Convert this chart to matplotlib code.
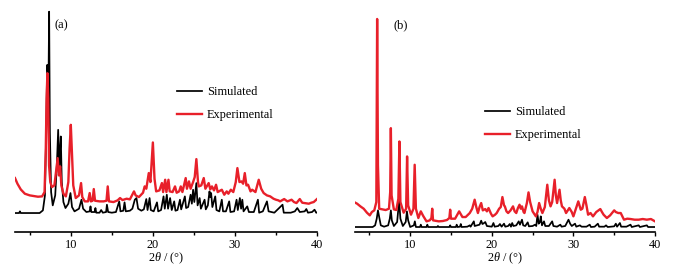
import matplotlib
matplotlib.use("Agg")
import matplotlib.pyplot as plt
from matplotlib.ticker import MultipleLocator

plt.rcParams['font.family'] = ['Liberation Serif', 'DejaVu Serif']
plt.rcParams['mathtext.fontset'] = 'custom'
plt.rcParams['mathtext.it'] = 'Liberation Serif:italic'
plt.rcParams['mathtext.rm'] = 'Liberation Serif'

# ---------------- Panel (a) ----------------
a_sim_x = [3.2, 3.7, 3.8, 3.9, 6.2, 6.6, 6.85, 7.0, 7.12, 7.2, 7.3, 7.36, 7.45, 7.6, 7.8, 8.1, 8.3, 8.46, 8.6, 8.7,
           8.78, 8.9, 9.1, 9.35, 9.7, 9.96, 10.15, 10.45, 11.0, 11.3, 11.5, 11.9, 12.3, 12.4, 12.5, 12.9, 13.0, 13.1,
           13.5, 13.7, 13.9, 14.3, 14.4, 14.55, 15.0, 15.5, 15.9, 16.05, 16.4, 16.55, 16.7, 17.2, 17.5, 17.8, 18.0,
           18.2, 18.6, 18.9, 19.2, 19.35, 19.6, 19.75, 20.1, 20.5, 20.65, 21.0, 21.3, 21.45, 21.7, 21.85, 22.1, 22.3,
           22.6, 22.75, 23.0, 23.3, 23.45, 23.9, 24.05, 24.3, 24.6, 24.75, 24.9, 25.05, 25.3, 25.45, 25.7, 25.85,
           26.3, 26.45, 26.7, 26.9, 27.0, 27.1, 27.25, 27.6, 27.75, 28.1, 28.4, 28.55, 28.9, 29.3, 29.45, 29.9, 30.2,
           30.35, 30.6, 30.75, 30.9, 31.05, 31.5, 31.7, 32.3, 32.8, 32.95, 33.4, 33.9, 34.1, 34.8, 35.8, 35.95, 36.8,
           37.3, 37.6, 37.9, 38.5, 38.7, 38.9, 39.4, 39.7, 39.9, 40.0]
a_sim_y = [57, 57, 62, 57, 57, 65, 110, 300, 502, 480, 500, 662, 300, 120, 80, 110, 200, 307, 180, 250,
           287, 150, 90, 72, 85, 117, 75, 62, 70, 97, 70, 60, 62, 77, 60, 60, 72, 58,
           58, 66, 58, 60, 82, 60, 58, 60, 92, 62, 64, 89, 62, 64, 70, 97, 102,
           70, 64, 68, 99, 66, 102, 66, 62, 89, 62, 66, 107, 70, 112, 70, 102, 66,
           92, 64, 66, 97, 68, 107, 72, 75, 112, 85, 127, 90, 147, 80, 102, 70,
           97, 68, 80, 122, 105, 117, 75, 107, 66, 62, 97, 62, 62, 92, 60, 62, 97,
           66, 102, 70, 97, 62, 77, 60, 60, 97, 58, 62, 92, 62, 58, 82, 58, 58,
           62, 72, 60, 62, 69, 58, 60, 67, 58, 58]

a_exp_x = [3.2, 3.5, 3.9, 4.4, 5.0, 5.5, 6.0, 6.5, 6.8, 6.95, 7.05, 7.15, 7.25, 7.35, 7.5, 7.7, 8.0, 8.2, 8.4, 8.55,
           8.7, 8.85, 9.1, 9.4, 9.7, 9.85, 10.0, 10.15, 10.3, 10.6, 11.0, 11.25, 11.4, 11.7, 12.1, 12.3, 12.45,
           12.65, 12.8, 12.95, 13.5, 14.0, 14.35, 14.5, 14.65, 15.2, 15.7, 16.0, 16.3, 16.8, 17.2, 17.7, 17.9,
           18.3, 18.8, 19.0, 19.2, 19.5, 19.7, 20.0, 20.2, 20.4, 20.8, 21.1, 21.25, 21.5, 21.65, 21.9, 22.05,
           22.4, 22.7, 22.9, 23.2, 23.4, 23.6, 24.0, 24.15, 24.4, 24.6, 24.9, 25.1, 25.3, 25.5, 25.6, 25.9, 26.2,
           26.4, 26.8, 27.0, 27.2, 27.45, 27.7, 27.9, 28.4, 28.7, 29.0, 29.2, 29.5, 29.8, 30.1, 30.3, 30.55,
           30.8, 31.0, 31.2, 31.4, 31.6, 31.9, 32.1, 32.5, 32.9, 33.2, 33.5, 33.9, 34.3, 34.7, 35.0, 35.3, 35.5,
           36.0, 36.4, 36.9, 37.2, 37.5, 37.9, 38.2, 38.5, 39.0, 39.3, 39.6, 40.0]
a_exp_y = [162, 145, 128, 115, 110, 108, 106, 107, 120, 250, 400, 477, 400, 200, 150, 135, 140, 180, 222, 170,
           197, 140, 115, 107, 150, 250, 322, 230, 140, 102, 110, 147, 105, 92, 92, 117, 92,
           94, 129, 94, 92, 92, 94, 137, 92, 90, 95, 102, 96, 100, 98, 122, 110,
           105, 118, 137, 130, 177, 150, 269, 160, 122, 125, 147, 120, 157, 120, 157, 122,
           120, 137, 118, 122, 137, 120, 162, 130, 152, 130, 150, 165, 219, 150, 137, 140, 162,
           130, 147, 128, 137, 125, 142, 120, 127, 112, 122, 115, 127, 120, 150, 192, 150,
           152, 145, 177, 140, 142, 122, 127, 120, 157, 130, 117, 110, 107, 100, 97, 95, 92,
           99, 92, 97, 90, 87, 99, 88, 87, 85, 88, 90, 99]

# ---------------- Panel (b) ----------------
b_sim_x = [3.2, 5.4, 5.7, 5.9, 6.05, 6.2, 6.4, 6.8, 7.3, 7.5, 7.63, 7.75, 8.0, 8.4, 8.55, 8.65, 8.8, 9.1, 9.45, 9.6,
           9.75, 10.0, 10.45, 10.57, 10.7, 11.2, 11.3, 11.4, 12.0, 12.1, 12.2, 13.3, 13.4, 13.5, 14.8, 14.9, 15.0,
           15.6, 15.7, 15.8, 16.1, 16.2, 16.3, 17.0, 17.3, 17.4, 17.8, 17.9, 18.5, 18.7, 18.85, 19.0, 19.2, 19.4,
           20.0, 20.2, 20.35, 20.8, 21.0, 21.2, 21.5, 21.65, 22.0, 22.2, 22.35, 22.5, 22.65, 23.0, 23.3, 23.45,
           23.7, 23.85, 24.1, 24.4, 24.55, 25.0, 25.3, 25.45, 25.6, 25.75, 25.9, 26.0, 26.15, 26.4, 26.55, 27.0,
           27.4, 27.55, 28.0, 28.4, 28.55, 29.0, 29.4, 29.6, 29.8, 30.2, 30.35, 30.8, 31.0, 31.6, 32.0, 32.15,
           32.6, 33.0, 33.15, 33.8, 34.0, 34.2, 35.0, 35.2, 35.35, 35.7, 35.85, 36.5, 37.0, 37.15, 38.0, 38.15,
           39.0, 39.15, 40.0]
b_sim_y = [15, 15, 20, 40, 65, 45, 20, 16, 20, 40, 65, 35, 18, 30, 70, 92, 40, 18, 30, 62,
           35, 15, 20, 32, 15, 15, 22, 15, 15, 22, 15, 15, 18, 15, 15, 20, 15,
           15, 22, 15, 16, 24, 15, 16, 20, 16, 32, 18, 22, 34, 24, 26, 30, 18,
           16, 27, 16, 18, 24, 16, 25, 16, 18, 24, 16, 27, 18, 20, 32, 22,
           37, 20, 18, 29, 17, 18, 22, 18, 52, 25, 30, 47, 20, 32, 18, 18,
           32, 18, 16, 22, 16, 18, 37, 25, 18, 25, 16, 20, 16, 16, 22, 15,
           16, 25, 16, 16, 20, 15, 17, 25, 16, 27, 16, 16, 22, 15, 20, 15,
           20, 15, 15]

b_exp_x = [3.2, 3.5, 3.9, 4.3, 4.7, 5.05, 5.3, 5.6, 5.85, 5.95, 6.05, 6.2, 6.6, 7.0, 7.4, 7.55, 7.63, 7.72, 8.0, 8.3,
           8.55, 8.68, 8.8, 9.2, 9.5, 9.62, 9.75, 10.1, 10.4, 10.55, 10.7, 11.0, 11.3, 11.6, 12.0, 12.4, 12.6,
           12.7, 12.8, 13.5, 14.0, 14.5, 14.8, 14.9, 15.0, 15.5, 16.0, 16.4, 16.8, 17.3, 17.6, 17.9, 18.1, 18.3,
           18.5, 18.7, 18.9, 19.2, 19.4, 19.6, 19.9, 20.1, 20.4, 20.6, 20.9, 21.1, 21.3, 21.5, 21.6, 21.8, 22.0,
           22.3, 22.6, 22.8, 23.0, 23.2, 23.4, 23.55, 23.7, 23.9, 24.0, 24.3, 24.5, 24.7, 25.0, 25.4, 25.6, 25.8,
           26.0, 26.2, 26.5, 26.8, 27.0, 27.2, 27.4, 27.7, 27.85, 28.0, 28.3, 28.45, 28.6, 28.9, 29.1, 29.5,
           29.8, 30.0, 30.3, 30.6, 30.75, 30.9, 31.1, 31.4, 31.6, 31.8, 32.1, 32.4, 32.8, 33.3, 33.5, 33.7, 34.1,
           34.5, 35.0, 35.2, 35.5, 35.8, 36.2, 36.6, 37.0, 37.5, 38.0, 38.5, 39.0, 39.5, 40.0]
b_exp_y = [89, 85, 77, 70, 58, 50, 60, 65, 90, 640, 200, 70, 68, 66, 70, 120, 312, 110, 68, 66,
           100, 272, 90, 58, 70, 227, 80, 52, 70, 202, 70, 42, 62, 48, 32, 35, 42,
           70, 35, 32, 33, 36, 42, 67, 40, 40, 62, 45, 45, 57, 70, 97, 75, 57,
           75, 87, 65, 69, 62, 72, 55, 47, 52, 57, 70, 75, 105, 80, 77, 62, 57,
           65, 77, 62, 57, 72, 82, 70, 77, 60, 57, 87, 119, 90, 62, 47, 60, 87,
           70, 57, 75, 142, 95, 77, 90, 157, 110, 87, 127, 95, 77, 70, 57, 72,
           60, 47, 70, 92, 80, 67, 70, 105, 80, 52, 57, 47, 60, 69, 60, 52, 42,
           50, 65, 60, 57, 57, 37, 40, 39, 37, 37, 39, 37, 39, 32]

panel_labels = ["(a)", "(b)"]
series_labels = ["Simulated", "Experimental"]
xticks_major = [10, 20, 30, 40]

BLACK = "#000000"
RED = "#e8202a"

fig = plt.figure(figsize=(6.8, 2.72), dpi=100)
fig.patch.set_facecolor("white")

ax_a = fig.add_axes([15 / 680, 1 - 232 / 272, 302 / 680, 222 / 272])
ax_b = fig.add_axes([354.7 / 680, 1 - 232 / 272, 300.3 / 680, 222 / 272])

panels = [
    (ax_a, a_sim_x, a_sim_y, a_exp_x, a_exp_y, (0.536, 0.656)),
    (ax_b, b_sim_x, b_sim_y, b_exp_x, b_exp_y, (0.434, 0.566)),
]

for i, (ax, sx, sy, ex, ey, leg_anchor) in enumerate(panels):
    ax.plot(sx, sy, color=BLACK, lw=1.25, label=series_labels[0], zorder=2)
    ax.plot(ex, ey, color=RED, lw=1.7, label=series_labels[1], zorder=3)
    ax.set_xlim(3.2, 40)
    ax.set_ylim(0, 667)
    for s in ["top", "right", "left"]:
        ax.spines[s].set_visible(False)
    ax.spines["bottom"].set_linewidth(1.2)
    ax.set_yticks([])
    ax.set_xticks(xticks_major)
    ax.xaxis.set_minor_locator(MultipleLocator(5))
    ax.tick_params(axis="x", which="major", direction="out", length=3, width=1.0,
                   labelsize=8.8, pad=2)
    ax.tick_params(axis="x", which="minor", direction="out", length=2.5, width=1.0)
    ax.set_xlabel(r"2$\theta$ / (°)", fontsize=8.8, labelpad=0)
    ax.text(0.152, 0.932, panel_labels[i], transform=ax.transAxes, fontsize=9,
            ha="center", va="center")
    ax.legend(loc="upper left", bbox_to_anchor=leg_anchor, frameon=False,
              fontsize=8.9, handlelength=2.0, handletextpad=0.42,
              labelspacing=0.85, borderaxespad=0, borderpad=0)
    ax.patch.set_alpha(0)

fig.savefig("out.png", dpi=100, facecolor="white")
